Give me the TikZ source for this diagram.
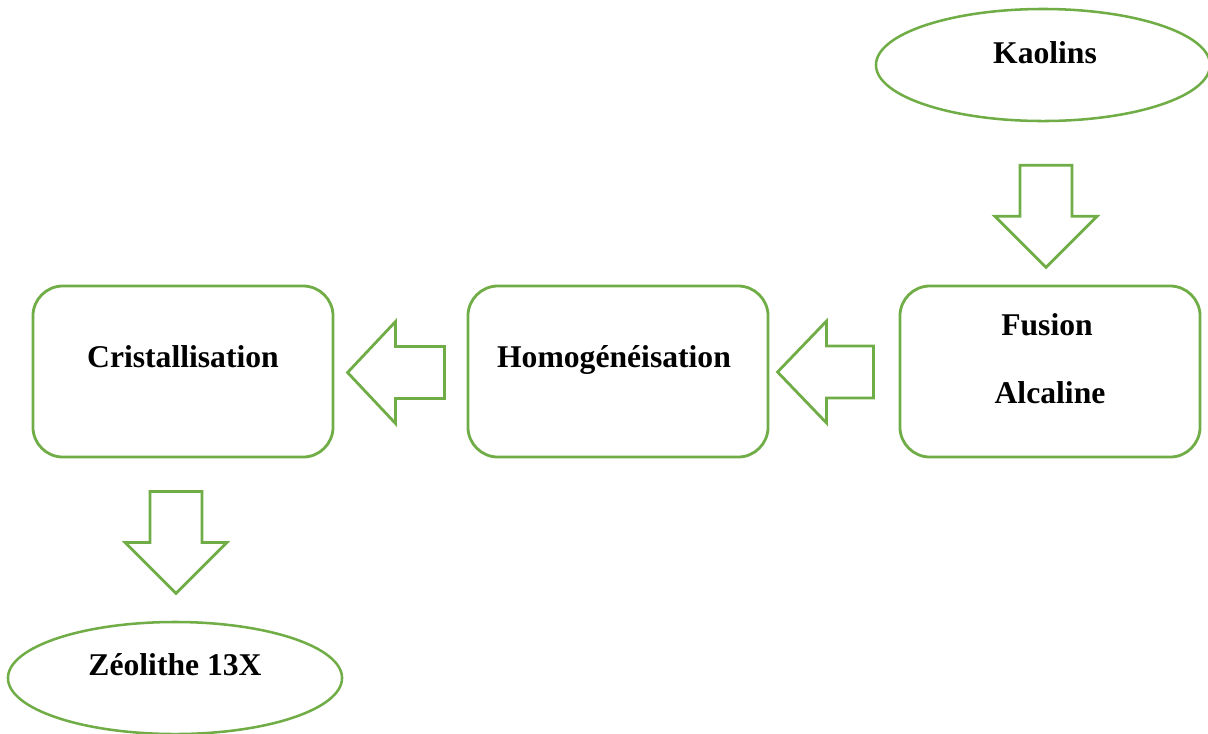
\documentclass[tikz,border=0pt]{standalone}
\usepackage{fontspec}
\setmainfont{Liberation Serif}
\usepackage{tikz}
\usetikzlibrary{calc}
\usetikzlibrary{shapes.geometric}

\definecolor{leaf}{HTML}{70AD47}

\tikzset{
	stepbox/.style = {draw=leaf, line width=2pt, rounded corners=0.75cm, minimum width=7.5cm, minimum height=4.275cm, inner sep=0pt},
	endbox/.style = {draw=leaf, line width=1.8pt, ellipse, minimum width=8.35cm, minimum height=2.8cm, inner sep=0pt},
	blockarrow/.style = {draw=leaf, line width=2pt, fill=white, line join=miter},
	lbl/.style = {font=\bfseries\fontsize{22.5}{26}\selectfont, anchor=base, inner sep=0pt}
}

\begin{document}
\begin{tikzpicture}[x=0.025cm, y=-0.025cm]
	\useasboundingbox (0,0) rectangle (1208,733);

	\node [endbox] (kaolins) at (1043,65) {};
	\node [lbl] (kaolinstxt) at (1045,63) {Kaolins};

	\node [stepbox] (fusion) at (1050,371.5) {};
	\node [lbl] (fusiontxt) at (1047,335) {Fusion};
	\node [lbl] (alcalinetxt) at (1050,403) {Alcaline};

	\node [stepbox] (homog) at (618,371.5) {};
	\node [lbl] (homogtxt) at (614,367) {Homogénéisation};

	\node [stepbox] (cristal) at (183,371.5) {};
	\node [lbl] (cristaltxt) at (183,367) {Cristallisation};

	\node [endbox] (zeolithe) at (175,678) {};
	\node [lbl] (zeolithetxt) at (175,675) {Zéolithe 13X};

	% block arrows
	\def \hw {26}
	\def \hh {51}
	\def \sl {51}
	\def \al {102}

	\draw [blockarrow] ($(kaolins.south)+(3,43)$) ++(-\hw,0) -- ++(2*\hw,0) -- ++(0,\sl) -- ++(\hh-\hw,0)
		-- ++(-\hh,\al-\sl) -- ++(-\hh,-\al+\sl) -- ++(\hh-\hw,0) -- cycle;

	\draw [blockarrow] ($(cristal.south)+(-7,33)$) ++(-\hw,0) -- ++(2*\hw,0) -- ++(0,\sl) -- ++(\hh-\hw,0)
		-- ++(-\hh,\al-\sl) -- ++(-\hh,-\al+\sl) -- ++(\hh-\hw,0) -- cycle;

	\draw [blockarrow] ($(fusion.west)+(-121,0.5)$) -- ++(49,-\hh) -- ++(0,\hh-\hw) -- ++(47,0)
		-- ++(0,2*\hw) -- ++(-47,0) -- ++(0,\hh-\hw) -- cycle;

	\draw [blockarrow] ($(homog.west)+(-119,1)$) -- ++(48,-\hh) -- ++(0,\hh-\hw) -- ++(49,0)
		-- ++(0,2*\hw) -- ++(-49,0) -- ++(0,\hh-\hw) -- cycle;

\end{tikzpicture}
\end{document}
